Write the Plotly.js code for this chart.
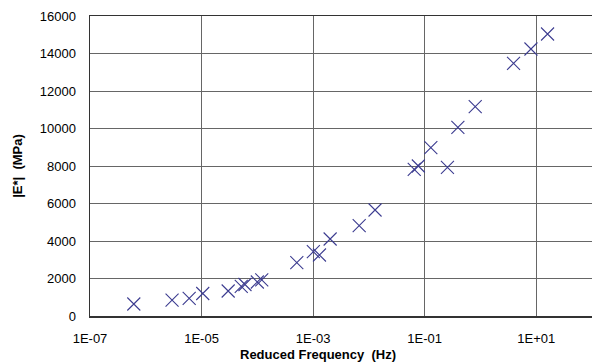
<!DOCTYPE html>
<html>
<head>
<meta charset="utf-8">
<script src="https://cdn.plot.ly/plotly-3.0.1.min.js"></script>
<style>html,body{margin:0;padding:0;background:#fff;}#chart{width:592px;height:364px;}</style>
</head>
<body>
<div id="chart"></div>
<script>
const reducedFrequency = [6.1e-7, 2.96e-6, 6.0e-6, 1.05e-5, 3.0e-5, 5.15e-5, 6.0e-5, 1.0e-4, 1.2e-4,
  5.1e-4, 1.01e-3, 1.3e-3, 2.02e-3, 6.7e-3, 1.29e-2, 6.5e-2, 7.7e-2, 0.129, 0.256, 0.394, 0.806,
  3.92, 8.04, 15.96];
const dynamicModulus = [640, 843, 940, 1200, 1333, 1584, 1680, 1813, 1930,
  2843, 3430, 3253, 4107, 4816, 5653, 7824, 8000, 8976, 7930, 10064, 11163,
  13477, 14240, 15040];
const xTickValues = [1e-7, 1e-5, 1e-3, 1e-1, 1e1];
const xTickLabels = ["1E-07", "1E-05", "1E-03", "1E-01", "1E+01"];
const yTickValues = [0, 2000, 4000, 6000, 8000, 10000, 12000, 14000, 16000];
const yTickLabels = ["0", "2000", "4000", "6000", "8000", "10000", "12000", "14000", "16000"];

const trace = {
  x: reducedFrequency,
  y: dynamicModulus,
  mode: 'markers',
  type: 'scatter',
  marker: {symbol: 'x-thin-open', size: 13, color: '#3c3c90', line: {width: 1.1, color: '#3c3c90'}}
};
const FAM = 'Liberation Sans, Arial, sans-serif';
const fnt = {family: FAM, size: 13, color: '#000'};
const layout = {
  width: 592, height: 364,
  margin: {l: 90, r: 0, t: 16, b: 48},
  paper_bgcolor: '#fff', plot_bgcolor: '#fff',
  showlegend: false,
  font: fnt,
  xaxis: {
    type: 'log', range: [-7, 2],
    tickvals: xTickValues, ticktext: xTickLabels,
    showgrid: true, gridcolor: '#666', gridwidth: 1,
    showline: true, linecolor: '#333', linewidth: 1.5, mirror: true,
    ticks: '', zeroline: false,
    ticklabelstandoff: 10,
    tickfont: fnt
  },
  yaxis: {
    range: [0, 16000],
    tickvals: yTickValues, ticktext: yTickLabels,
    showgrid: true, gridcolor: '#666', gridwidth: 1,
    showline: true, linecolor: '#333', linewidth: 1.5, mirror: true,
    ticks: '', zeroline: false,
    ticklabelstandoff: 10,
    tickfont: fnt,
    title: {text: '<b>|E*|  (MPa)</b>', font: {family: FAM, size: 13, color: '#000'}, standoff: 14}
  },
  annotations: [{
    text: '<b>Reduced Frequency  (Hz)</b>', xref: 'paper', yref: 'paper',
    x: 0.455, y: 0, yshift: -38, xanchor: 'center', yanchor: 'middle',
    showarrow: false, font: {family: FAM, size: 13, color: '#000'}
  }]
};
Plotly.newPlot('chart', [trace], layout, {displayModeBar: false, staticPlot: true});
</script>
</body>
</html>
